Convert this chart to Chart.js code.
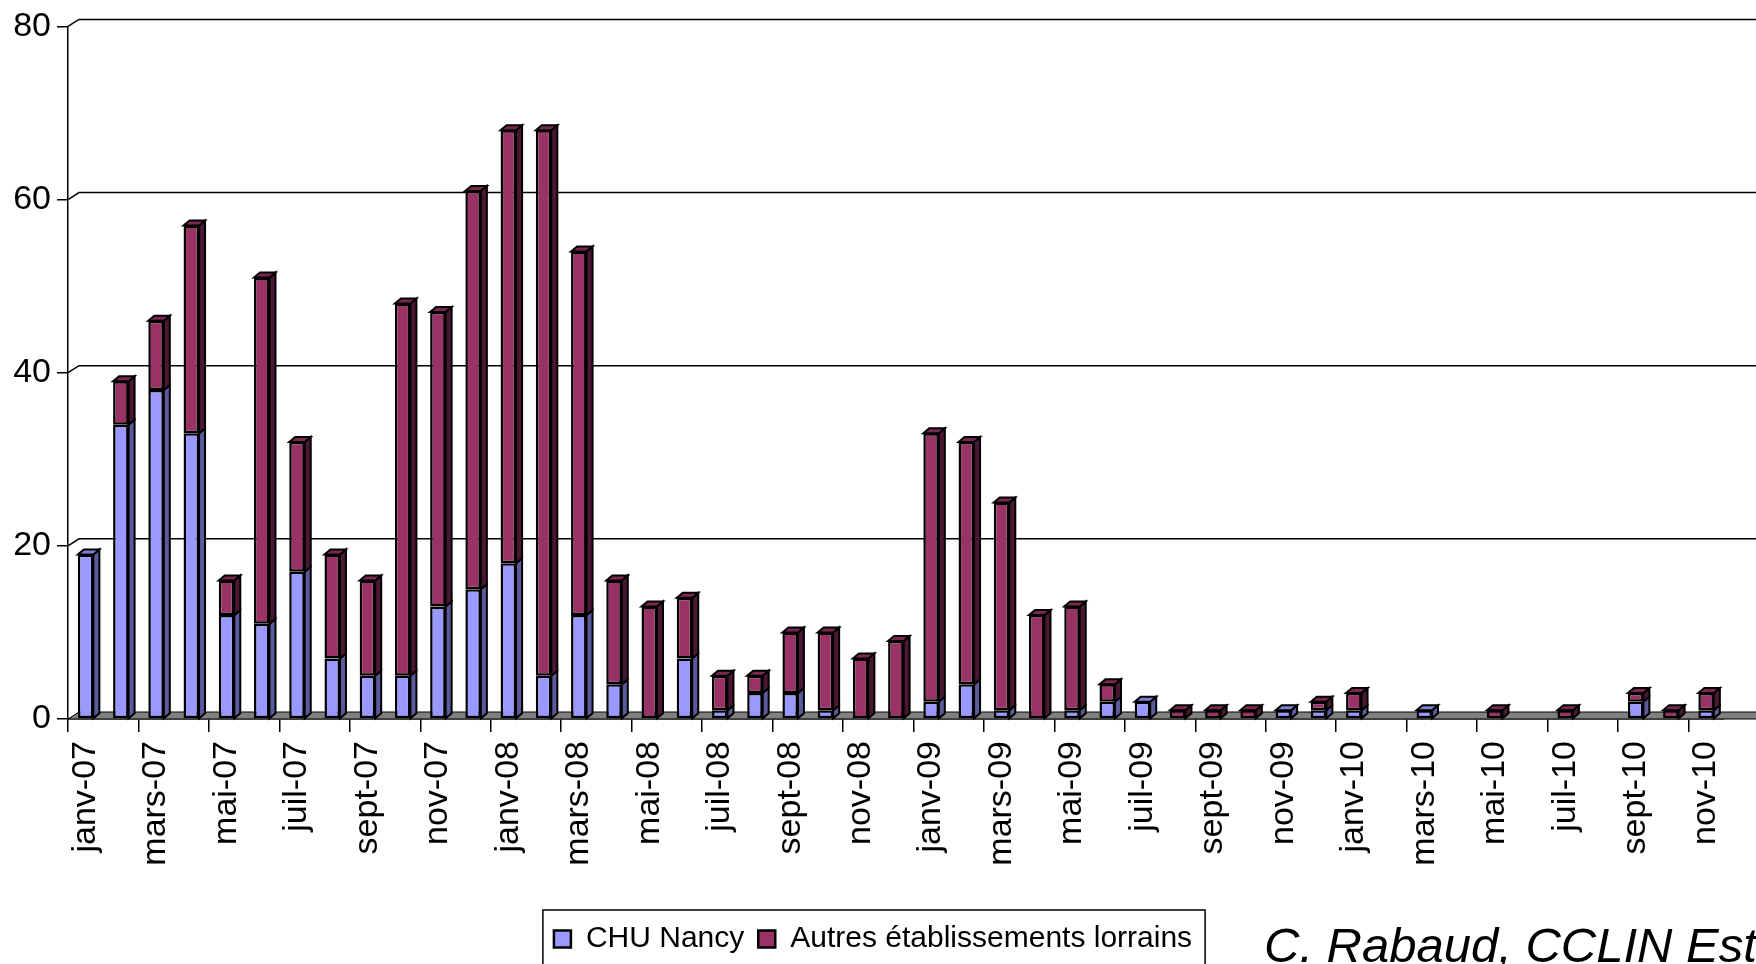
<!DOCTYPE html>
<html lang="fr">
<head>
  <meta charset="UTF-8" />
  <title>CHU Nancy / Autres établissements lorrains</title>
  <script src="https://cdn.jsdelivr.net/npm/chart.js"></script>
  <style>
    html, body {
      margin: 0;
      padding: 0;
      background: #fff;
      overflow: hidden;
    }
    #wrap {
      width: 1756px;
      height: 964px;
    }
  </style>
</head>
<body>
  <div id="wrap"><canvas id="chart" width="1756" height="964"></canvas></div>

  <script>
    const months = [
      'janv-07', 'févr-07', 'mars-07', 'avr-07', 'mai-07', 'juin-07',
      'juil-07', 'août-07', 'sept-07', 'oct-07', 'nov-07', 'déc-07',
      'janv-08', 'févr-08', 'mars-08', 'avr-08', 'mai-08', 'juin-08',
      'juil-08', 'août-08', 'sept-08', 'oct-08', 'nov-08', 'déc-08',
      'janv-09', 'févr-09', 'mars-09', 'avr-09', 'mai-09', 'juin-09',
      'juil-09', 'août-09', 'sept-09', 'oct-09', 'nov-09', 'déc-09',
      'janv-10', 'févr-10', 'mars-10', 'avr-10', 'mai-10', 'juin-10',
      'juil-10', 'août-10', 'sept-10', 'oct-10', 'nov-10'
    ];

    const chuNancy = [
      19, 34, 38, 33, 12, 11, 17, 7, 5, 5, 13, 15,
      18, 5, 12, 4, 0, 7, 1, 3, 3, 1, 0, 0,
      2, 4, 1, 0, 1, 2, 2, 0, 0, 0, 1, 1,
      1, 0, 1, 0, 0, 0, 0, 0, 2, 0, 1
    ];

    const autresLorrains = [
      0, 5, 8, 24, 4, 40, 15, 12, 11, 43, 34, 46,
      50, 63, 42, 12, 13, 7, 4, 2, 7, 9, 7, 9,
      31, 28, 24, 12, 12, 2, 0, 1, 1, 1, 0, 1,
      2, 0, 0, 0, 1, 0, 1, 0, 1, 1, 2
    ];

    const yMax = 80;
    const yStep = 20;
    const credit = 'C. Rabaud, CCLIN Est.';

    const FONT = "'Liberation Sans', Arial, sans-serif";
    const BLUE = '#9999ff', BLUE_SIDE = '#5a5a9c', BLUE_TOP = '#7f7fd6';
    const WINE = '#993366', WINE_SIDE = '#4a1830', WINE_TOP = '#7a2850';

    // fake 3D: back wall grid, grey floor, bar sides and tops
    const depth3d = {
      id: 'depth3d',
      beforeDatasetsDraw(chart) {
        const { ctx, chartArea: a, scales: { y } } = chart;
        const dx = 11, dy = 7;
        ctx.save();
        ctx.strokeStyle = '#000';
        ctx.lineWidth = 1.5;
        y.ticks.forEach(t => {
          if (t.value <= 0) return;
          const py = y.getPixelForValue(t.value);
          ctx.beginPath();
          ctx.moveTo(a.left, py);
          ctx.lineTo(a.left + dx, py - dy);
          ctx.lineTo(chart.width + 5, py - dy);
          ctx.stroke();
        });
        ctx.fillStyle = '#808080';
        ctx.beginPath();
        ctx.moveTo(a.left, a.bottom);
        ctx.lineTo(a.left + dx, a.bottom - dy);
        ctx.lineTo(chart.width + 5, a.bottom - dy);
        ctx.lineTo(chart.width + 5, a.bottom);
        ctx.closePath();
        ctx.fill();
        ctx.lineWidth = 1;
        ctx.stroke();
        ctx.restore();
      },
      afterDatasetsDraw(chart) {
        const ctx = chart.ctx;
        const dx = 6, dy = 5;
        const sides = [BLUE_SIDE, WINE_SIDE], tops = [BLUE_TOP, WINE_TOP];
        const topmost = [];
        ctx.save();
        ctx.strokeStyle = '#000';
        ctx.lineWidth = 2;
        chart.data.datasets.forEach((ds, di) => {
          chart.getDatasetMeta(di).data.forEach((bar, i) => {
            const top = Math.min(bar.y, bar.base), bottom = Math.max(bar.y, bar.base);
            if (bottom - top < 0.5) return;
            const xr = bar.x + bar.width / 2;
            ctx.fillStyle = sides[di];
            ctx.beginPath();
            ctx.moveTo(xr, top);
            ctx.lineTo(xr + dx, top - dy);
            ctx.lineTo(xr + dx, bottom - dy);
            ctx.lineTo(xr, bottom);
            ctx.closePath();
            ctx.fill();
            ctx.stroke();
            topmost[i] = { bar, di, top };
          });
        });
        topmost.forEach(t => {
          if (!t) return;
          const xl = t.bar.x - t.bar.width / 2, xr = t.bar.x + t.bar.width / 2;
          ctx.fillStyle = tops[t.di];
          ctx.beginPath();
          ctx.moveTo(xl, t.top);
          ctx.lineTo(xl + dx, t.top - dy);
          ctx.lineTo(xr + dx, t.top - dy);
          ctx.lineTo(xr, t.top);
          ctx.closePath();
          ctx.fill();
          ctx.stroke();
        });
        ctx.restore();
      },
      afterDraw(chart) {
        const ctx = chart.ctx;
        const hb = chart.legend.legendHitBoxes;
        ctx.save();
        if (hb && hb.length) {
          const last = hb[hb.length - 1];
          const left = hb[0].left - 11;
          const right = last.left + last.width + 13;
          const top = hb[0].top - 14;
          ctx.strokeStyle = '#000';
          ctx.lineWidth = 1.5;
          ctx.strokeRect(left, top, right - left, chart.height + 20 - top);
        }
        ctx.fillStyle = '#000';
        ctx.font = 'italic 49px ' + FONT;
        ctx.textAlign = 'left';
        ctx.textBaseline = 'alphabetic';
        ctx.fillText(credit, 1264, 962);
        ctx.restore();
      }
    };

    const ctx = document.getElementById('chart').getContext('2d');
    const chart = new Chart(ctx, {
      type: 'bar',
      data: {
        labels: months,
        datasets: [
          {
            label: 'CHU Nancy',
            data: chuNancy,
            backgroundColor: BLUE,
            borderColor: '#000',
            borderWidth: 2.5,
            borderSkipped: false,
            barPercentage: 0.44,
            categoryPercentage: 1
          },
          {
            label: 'Autres établissements lorrains',
            data: autresLorrains,
            backgroundColor: WINE,
            borderColor: '#000',
            borderWidth: 2.5,
            borderSkipped: false,
            barPercentage: 0.44,
            categoryPercentage: 1
          }
        ]
      },
      options: {
        responsive: false,
        animation: false,
        devicePixelRatio: 1,
        layout: { padding: { top: 26, right: 10, left: 0, bottom: 0 } },
        plugins: {
          title: { display: false },
          tooltip: { enabled: false },
          legend: {
            position: 'bottom',
            labels: {
              color: '#000',
              font: { family: FONT, size: 30 },
              boxWidth: 17,
              boxHeight: 17,
              padding: 14
            }
          }
        },
        scales: {
          x: {
            stacked: true,
            afterFit(scale) { scale.height = 191; },
            grid: {
              offset: true,
              drawOnChartArea: false,
              drawTicks: true,
              tickLength: 13,
              lineWidth: 1.5,
              color: c => (c.index % 2 === 0 ? '#000' : 'rgba(0,0,0,0)')
            },
            border: { display: true, color: '#000', width: 1.5 },
            ticks: {
              autoSkip: false,
              minRotation: 90,
              maxRotation: 90,
              padding: 9,
              color: '#000',
              font: { family: FONT, size: 34 },
              callback: (v, i) => (i % 2 === 0 ? months[i] : '')
            }
          },
          y: {
            stacked: true,
            min: 0,
            max: yMax,
            afterFit(scale) { scale.width = 68; },
            grid: {
              drawOnChartArea: false,
              drawTicks: true,
              tickLength: 11,
              lineWidth: 1.5,
              color: '#000'
            },
            border: { display: true, color: '#000', width: 1.5 },
            ticks: {
              stepSize: yStep,
              padding: 6,
              color: '#000',
              font: { family: FONT, size: 34 }
            }
          }
        }
      },
      plugins: [depth3d]
    });
  </script>
</body>
</html>
